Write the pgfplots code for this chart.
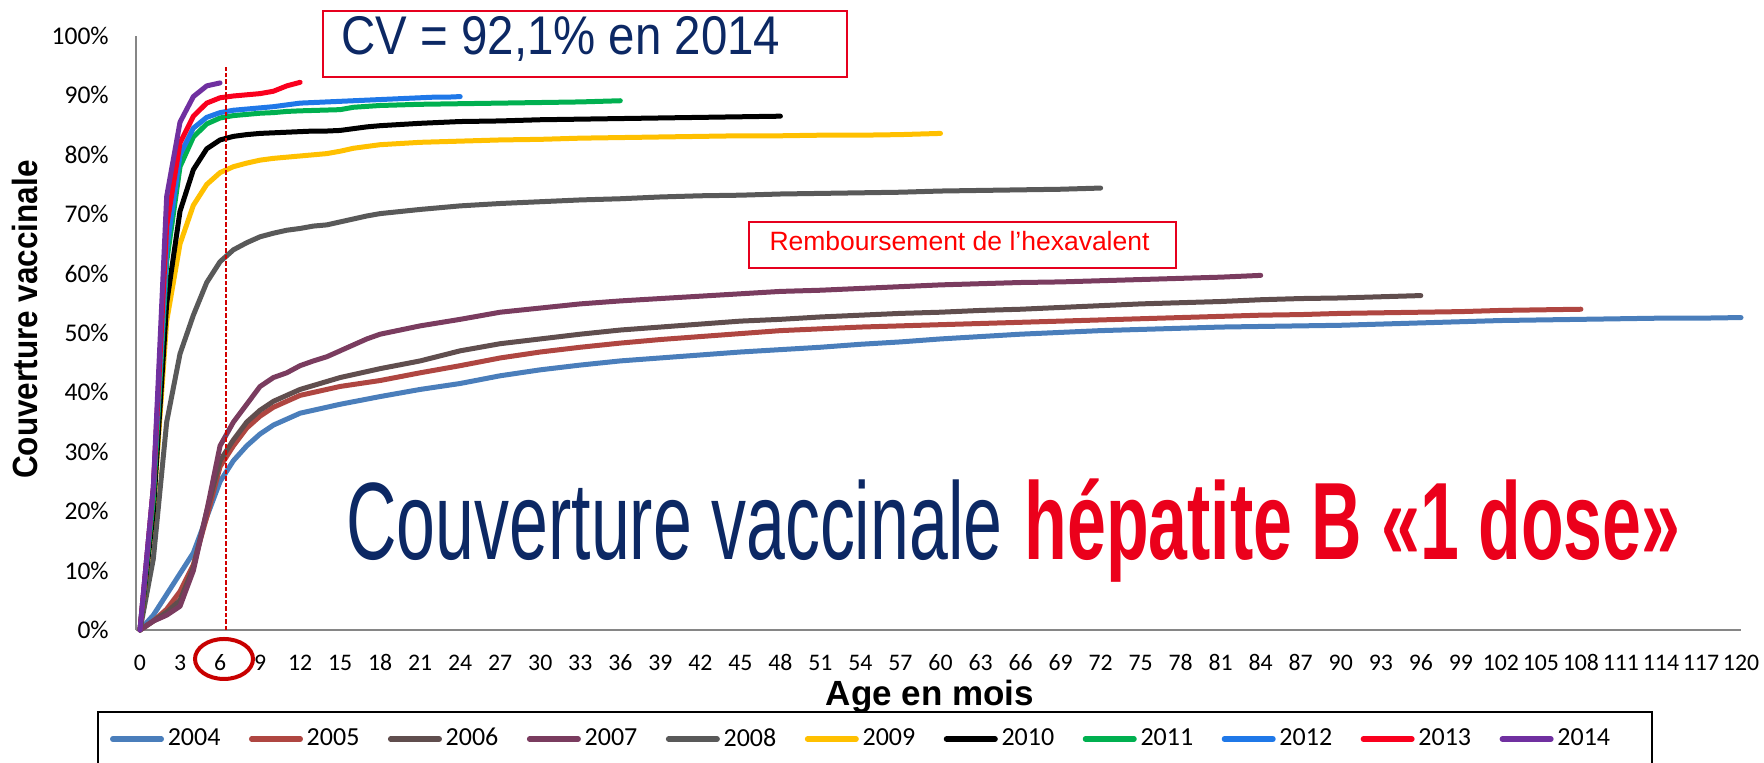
\documentclass[border=0pt]{standalone}
\usepackage{pgfplots}
\pgfplotsset{compat=1.18}
\usepackage{fontspec}
\setmainfont{Carlito}
\newfontfamily\arialfont{Liberation Sans}
\newfontfamily\titlefont{Liberation Sans}[FakeStretch=0.9]
\newfontfamily\cvfont{Liberation Sans}[FakeStretch=0.87]
\newfontfamily\bigfont{Liberation Sans}[FakeStretch=0.635]

\definecolor{axgray}{RGB}{134,134,134}
\definecolor{c2004}{RGB}{74,126,187}
\definecolor{c2005}{RGB}{175,70,65}
\definecolor{c2006}{RGB}{96,78,78}
\definecolor{c2007}{RGB}{122,60,95}
\definecolor{c2008}{RGB}{89,89,89}
\definecolor{c2009}{RGB}{255,192,0}
\definecolor{c2010}{RGB}{0,0,0}
\definecolor{c2011}{RGB}{0,176,80}
\definecolor{c2012}{RGB}{31,120,232}
\definecolor{c2013}{RGB}{250,0,30}
\definecolor{c2014}{RGB}{112,48,160}
\definecolor{navy}{RGB}{12,40,100}
\definecolor{bigred}{RGB}{235,0,27}
\definecolor{boxred}{RGB}{230,0,30}
\definecolor{dashred}{RGB}{210,0,0}
\definecolor{ellred}{RGB}{200,0,0}

\begin{document}
\begin{tikzpicture}
\begin{axis}[
  at={(54.4pt,52.8pt)}, anchor=south west,
  scale only axis, width=642pt, height=237.6pt,
  xmin=-0.3, xmax=120, ymin=0, ymax=100,
  axis x line=bottom, axis y line=left,
  axis line style={draw=axgray, line width=0.9pt, -},
  major tick length=0pt,
  xtick={0,3,...,120}, ytick={0,10,...,100},
  /pgf/number format/assume math mode=true,
  yticklabel={\pgfmathprintnumber{\tick}\%},
  xticklabel style={font=\fontsize{9.5}{11}\selectfont, anchor=center, yshift=-13.1pt},
  yticklabel style={font=\fontsize{10.2}{12}\selectfont, anchor=east, xshift=-7.4pt},
  xlabel={Age en mois},
  xlabel style={font=\arialfont\bfseries\fontsize{14}{16}\selectfont, at={(axis description cs:0.4947,-0.1128)}, anchor=center},
  ylabel={Couverture vaccinale},
  ylabel style={font=\titlefont\bfseries\fontsize{14}{16}\selectfont, at={(axis description cs:-0.0692,0.5227)}, anchor=center},
  clip=false,
  every axis plot/.append style={line width=2pt, line join=round, line cap=round},
  legend columns=11,
  legend style={at={(axis description cs:-0.0165,-0.1835)}, anchor=west, draw=none, fill=none,
    inner sep=0pt, font=\fontsize{10.4}{12}\selectfont,
    nodes={inner xsep=1.5pt, inner ysep=1pt},
    /tikz/every even column/.append style={column sep=9.9pt}},
  legend image code/.code={\draw[#1, line width=2.2pt, line cap=round] (1.1pt,0pt) -- (20.5pt,0pt);},
]
\addplot[c2004] coordinates {(0,0)(1,2.5)(2,6)(3,9.5)(4,13)(5,19)(6,25)(7,28.5)(8,31)(9,33)(10,34.5)(11,35.5)(12,36.5)(15,38)(18,39.3)(21,40.5)(24,41.5)(27,42.8)(30,43.8)(33,44.6)(36,45.3)(39,45.8)(42,46.3)(45,46.8)(48,47.2)(51,47.6)(54,48.1)(57,48.5)(60,49)(63,49.4)(66,49.8)(69,50.1)(72,50.4)(75,50.6)(78,50.8)(81,51)(84,51.1)(87,51.2)(90,51.3)(93,51.5)(96,51.7)(99,51.9)(102,52.1)(105,52.2)(108,52.3)(111,52.4)(114,52.5)(117,52.5)(120,52.6)};
\addlegendentry{2004}
\addplot[c2005] coordinates {(0,0)(1,1.5)(2,3.5)(3,6.5)(4,11)(5,19)(6,27.5)(7,31)(8,34)(9,36)(10,37.5)(11,38.5)(12,39.5)(15,41)(18,42)(21,43.3)(24,44.5)(27,45.8)(30,46.8)(33,47.6)(36,48.3)(39,48.9)(42,49.4)(45,49.9)(48,50.4)(51,50.7)(54,51)(57,51.2)(60,51.4)(63,51.6)(66,51.8)(69,52)(72,52.2)(75,52.4)(78,52.6)(81,52.8)(84,53)(87,53.1)(90,53.3)(93,53.4)(96,53.5)(99,53.6)(102,53.8)(105,53.9)(108,54)};
\addlegendentry{2005}
\addplot[c2006] coordinates {(0,0)(1,1.5)(2,3)(3,5)(4,10.5)(5,20)(6,28.5)(7,32)(8,35)(9,37)(10,38.5)(11,39.5)(12,40.5)(15,42.5)(18,44)(21,45.3)(24,47)(27,48.2)(30,49)(33,49.8)(36,50.5)(39,51)(42,51.5)(45,52)(48,52.3)(51,52.7)(54,53)(57,53.3)(60,53.5)(63,53.8)(66,54)(69,54.3)(72,54.6)(75,54.9)(78,55.1)(81,55.3)(84,55.6)(87,55.8)(90,55.9)(93,56.1)(96,56.3)};
\addlegendentry{2006}
\addplot[c2007] coordinates {(0,0)(1,1.5)(2,2.5)(3,4)(4,10)(5,20)(6,31)(7,35)(8,38)(9,41)(10,42.5)(11,43.3)(12,44.5)(13,45.3)(14,46)(15,47)(16,48)(17,49)(18,49.8)(21,51.2)(24,52.3)(27,53.5)(30,54.2)(33,54.9)(36,55.4)(39,55.8)(42,56.2)(45,56.6)(48,57)(51,57.2)(54,57.5)(57,57.8)(60,58.1)(63,58.3)(66,58.5)(69,58.6)(72,58.8)(75,59)(78,59.2)(81,59.4)(84,59.7)};
\addlegendentry{2007}
\addplot[c2008] coordinates {(0,0)(1,12)(2,35)(3,46.5)(4,53)(5,58.5)(6,62)(7,64)(8,65.2)(9,66.2)(10,66.8)(11,67.3)(12,67.6)(13,68)(14,68.2)(15,68.7)(16,69.2)(17,69.7)(18,70.1)(21,70.8)(24,71.4)(27,71.8)(30,72.1)(33,72.4)(36,72.6)(39,72.9)(42,73.1)(45,73.2)(48,73.4)(51,73.5)(54,73.6)(57,73.7)(60,73.9)(63,74)(66,74.1)(69,74.2)(72,74.4)};
\addlegendentry{2008}
\addplot[c2009] coordinates {(0,0)(1,20)(2,52)(3,65)(4,71.5)(5,75)(6,77)(7,78)(8,78.6)(9,79.1)(10,79.4)(11,79.6)(12,79.8)(13,80)(14,80.2)(15,80.6)(16,81.1)(17,81.4)(18,81.7)(21,82.1)(24,82.3)(27,82.5)(30,82.6)(33,82.8)(36,82.9)(39,83)(42,83.1)(45,83.2)(48,83.2)(51,83.3)(54,83.3)(57,83.4)(60,83.6)};
\addlegendentry{2009}
\addplot[c2010] coordinates {(0,0)(1,20)(2,55)(3,70.5)(4,77.5)(5,81)(6,82.5)(7,83.1)(8,83.4)(9,83.6)(10,83.7)(11,83.8)(12,83.9)(13,84)(14,84)(15,84.1)(16,84.4)(17,84.7)(18,84.9)(21,85.3)(24,85.6)(27,85.7)(30,85.9)(33,86)(36,86.1)(39,86.2)(42,86.3)(45,86.4)(48,86.5)};
\addlegendentry{2010}
\addplot[c2011] coordinates {(0,0)(1,22)(2,62)(3,78)(4,83)(5,85.2)(6,86.2)(7,86.6)(8,86.8)(9,87)(10,87.1)(11,87.3)(12,87.4)(15,87.6)(16,88)(18,88.3)(21,88.5)(24,88.6)(27,88.7)(30,88.8)(33,88.9)(36,89.1)};
\addlegendentry{2011}
\addplot[c2012] coordinates {(0,0)(1,24)(2,64)(3,80)(4,84.5)(5,86.3)(6,87.1)(7,87.5)(8,87.7)(9,87.9)(10,88.1)(11,88.4)(12,88.7)(13,88.8)(14,88.9)(15,89)(16,89.1)(17,89.2)(18,89.3)(19,89.4)(20,89.5)(21,89.6)(22,89.7)(23,89.7)(24,89.8)};
\addlegendentry{2012}
\addplot[c2013] coordinates {(0,0)(1,24)(2,68)(3,82)(4,86.5)(5,88.7)(6,89.6)(7,89.9)(8,90.1)(9,90.3)(10,90.7)(11,91.6)(12,92.2)};
\addlegendentry{2013}
\addplot[c2014] coordinates {(0,0)(1,24)(2,73)(3,85.5)(4,89.8)(5,91.6)(6,92.1)};
\addlegendentry{2014}
\draw[dashred, line width=0.9pt, dash pattern=on 1.8pt off 0.8pt] (axis cs:6.45,0) -- (axis cs:6.45,94.7);
\end{axis}
\begin{scope}[shift={(0pt,304.8pt)}, x=0.4pt, y=-0.4pt]
  \draw[ellred, line width=1.6pt] (224,659) ellipse [x radius=29, y radius=20];
  \draw[boxred, line width=0.8pt] (323,11) rectangle (847,77);
  \node[anchor=base west, inner sep=0pt, font=\cvfont\fontsize{21.8}{24}\selectfont, text=navy] at (341,55) {CV = 92,1\% en 2014};
  \draw[boxred, line width=0.7pt] (749,222) rectangle (1176,268);
  \node[anchor=base west, inner sep=0pt, font=\arialfont\fontsize{10.6}{12}\selectfont, text=red] at (769,251) {Remboursement de l’hexavalent};
  \node[anchor=base west, inner sep=0pt, font=\bigfont\fontsize{44}{48}\selectfont, text=navy] at (346,560) {Couverture vaccinale};
  \node[anchor=base west, inner sep=0pt, font=\bigfont\bfseries\fontsize{44}{48}\selectfont, text=bigred] at (1024,560) {hépatite B «1 dose»};
  \draw[black, line width=0.8pt] (98,790) rectangle (1652,712);
\end{scope}
\pgfresetboundingbox
\useasboundingbox (0pt,0pt) rectangle (705.6pt,304.8pt);
\end{tikzpicture}
\end{document}
